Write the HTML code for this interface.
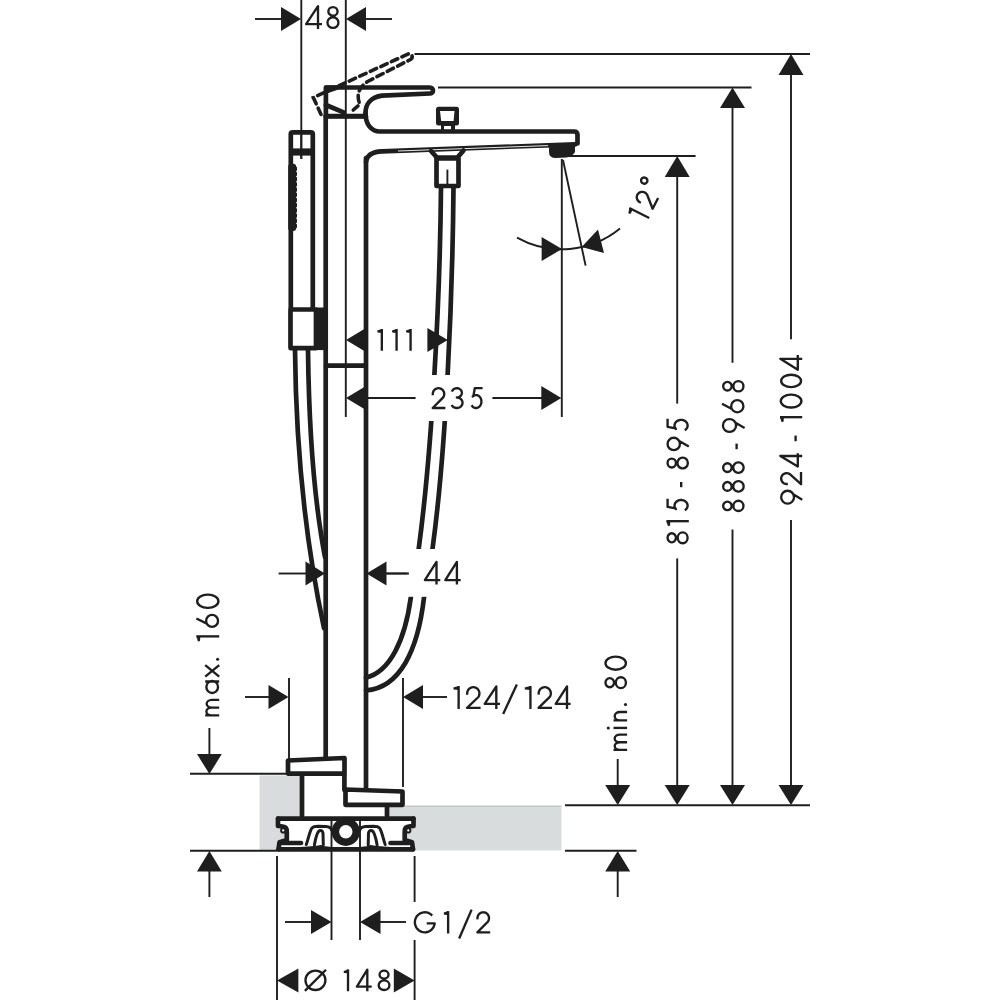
<!DOCTYPE html>
<html>
<head>
<meta charset="utf-8">
<style>
html,body{margin:0;padding:0;background:#fff;width:1000px;height:1000px;overflow:hidden;}
svg{display:block;}
.d{stroke:#1e1e1e;stroke-width:1.9;fill:none;}
.o{stroke:#1e1e1e;stroke-width:4.7;fill:none;stroke-linejoin:round;stroke-linecap:round;}
.ow{stroke:#1e1e1e;stroke-width:4.7;fill:#fff;stroke-linejoin:round;}
.a{fill:#1e1e1e;stroke:none;}
.dash{stroke:#1e1e1e;stroke-width:3.6;fill:none;stroke-dasharray:7 4.6;stroke-linecap:round;}
.t path{stroke:#1e1e1e;stroke-width:2.35;fill:none;stroke-linejoin:round;stroke-linecap:butt;}
.t path.tf{fill:#1e1e1e;stroke:none;}
</style>
</head>
<body>
<svg width="1000" height="1000" viewBox="0 0 1000 1000">

<!-- ===== GRAY FLOOR ===== -->
<polygon points="259.5,775.5 302,775.5 302,806 561.5,806 561.5,850.5 259.5,850.5" fill="#d9dcdd"/>
<line x1="404" y1="806.3" x2="561.5" y2="806.3" stroke="#c4c7c8" stroke-width="1.5"/>

<!-- ===== TOP DIMENSION 48 ===== -->
<line class="d" x1="255" y1="19" x2="282" y2="19"/>
<polygon class="a" points="301,19 281,7 281,31"/>
<line class="d" x1="366" y1="19" x2="392" y2="19"/>
<polygon class="a" points="346,19 366,7 366,31"/>
<line class="d" x1="301.3" y1="0" x2="301.3" y2="159"/>
<line class="d" x1="345.8" y1="0" x2="345.8" y2="417"/>

<!-- ===== RIGHT VERTICAL DIMENSIONS ===== -->
<line class="d" x1="414.5" y1="54" x2="810" y2="54"/>
<line class="d" x1="438" y1="87.5" x2="751.5" y2="87.5"/>
<line class="d" x1="566" y1="156" x2="695.6" y2="156"/>
<line class="d" x1="565" y1="805.3" x2="810" y2="805.3"/>
<line class="d" x1="190" y1="850.8" x2="277" y2="850.8"/>
<line class="d" x1="565" y1="850.8" x2="636.5" y2="850.8"/>

<!-- 924-1004 -->
<line class="d" x1="791" y1="70" x2="791" y2="339.2"/>
<line class="d" x1="791" y1="520" x2="791" y2="790"/>
<polygon class="a" points="791,54 778.5,75 803.5,75"/>
<polygon class="a" points="791,805 778.5,785 803.5,785"/>
<!-- 888-968 -->
<line class="d" x1="732.5" y1="100" x2="732.5" y2="362.8"/>
<line class="d" x1="732.5" y1="529.6" x2="732.5" y2="790"/>
<polygon class="a" points="732.5,87.5 720,108 745,108"/>
<polygon class="a" points="732.5,805 720,785 745,785"/>
<!-- 815-895 -->
<line class="d" x1="677.2" y1="170" x2="677.2" y2="403.6"/>
<line class="d" x1="677.2" y1="558.4" x2="677.2" y2="790"/>
<polygon class="a" points="677.2,156 664.7,177 689.7,177"/>
<polygon class="a" points="677.2,805 664.7,785 689.7,785"/>
<!-- min. 80 -->
<line class="d" x1="617.7" y1="759" x2="617.7" y2="790"/>
<polygon class="a" points="617.7,805 605.2,785 630.2,785"/>
<polygon class="a" points="617.7,851 605.2,871.6 630.2,871.6"/>
<line class="d" x1="617.7" y1="865" x2="617.7" y2="897"/>

<!-- ===== LEFT: max. 160 ===== -->
<line class="d" x1="190" y1="773.8" x2="288" y2="773.8"/>
<line class="d" x1="209.4" y1="728" x2="209.4" y2="760"/>
<polygon class="a" points="209.4,774 197,754 221.8,754"/>
<polygon class="a" points="209.4,851 197,871.6 221.8,871.6"/>
<line class="d" x1="209.4" y1="865" x2="209.4" y2="897"/>

<!-- ===== 111 ===== -->
<polygon class="a" points="346,340 366,328 366,352"/>
<polygon class="a" points="447.8,340 427.4,328 427.4,352"/>

<!-- ===== 235 ===== -->
<polygon class="a" points="346,398 366,386 366,410"/>
<line class="d" x1="366" y1="398" x2="415.6" y2="398"/>
<line class="d" x1="492.4" y1="398" x2="542" y2="398"/>
<polygon class="a" points="561.3,398 541.3,386 541.3,410"/>
<line class="d" x1="561.8" y1="159" x2="561.8" y2="417"/>

<!-- ===== 12 deg ===== -->
<line class="d" x1="563" y1="160" x2="585.6" y2="265.6"/>
<path class="d" d="M517,237.6 A92,92 0 0 0 620,228.6"/>
<polygon class="a" points="562,249 541.6,237 541.6,261"/>
<polygon class="a" points="581.6,247 598,229.5 604,253"/>

<!-- ===== 44 ===== -->
<line class="d" x1="278.6" y1="573.5" x2="307" y2="573.5"/>
<polygon class="a" points="325,573.5 305.5,561.5 305.5,585.5"/>
<polygon class="a" points="366.5,573.5 386.5,561.5 386.5,585.5"/>
<line class="d" x1="386" y1="573.5" x2="409" y2="573.5"/>

<!-- ===== 124/124 ===== -->
<line class="d" x1="245" y1="697" x2="269" y2="697"/>
<polygon class="a" points="288.5,697 268.5,685 268.5,709"/>
<line class="d" x1="289" y1="678" x2="289" y2="760"/>
<line class="d" x1="403" y1="678" x2="403" y2="787"/>
<polygon class="a" points="403,697 423,685 423,709"/>
<line class="d" x1="422" y1="697" x2="447" y2="697"/>

<!-- ===== bottom dims ===== -->
<line class="d" x1="277" y1="856" x2="277" y2="1000"/>
<line class="d" x1="414.6" y1="856" x2="414.6" y2="902"/>
<line class="d" x1="414.6" y1="940" x2="414.6" y2="1000"/>
<line class="d" x1="331.5" y1="818" x2="331.5" y2="940"/>
<line class="d" x1="360" y1="818" x2="360" y2="940"/>
<line class="d" x1="285" y1="922" x2="312" y2="922"/>
<polygon class="a" points="331.5,922 311,910 311,934"/>
<polygon class="a" points="360,922 380.5,910 380.5,934"/>
<line class="d" x1="380" y1="922" x2="406" y2="922"/>
<polygon class="a" points="277,980.4 298.4,968.4 298.4,992.4"/>
<polygon class="a" points="414.6,980.4 393.8,968.4 393.8,992.4"/>

<!-- ===== OBJECT ===== -->
<!-- handshower -->
<path class="o" d="M290.8,308 L290.8,134 Q290.8,132.4 292.8,132.4 L310.8,132.4 Q312.8,132.4 312.8,134 L312.8,308"/>
<rect class="a" x="289" y="148.4" width="25.6" height="7.2"/>
<line class="d" x1="301.3" y1="130" x2="301.3" y2="159"/>
<rect class="a" x="288.2" y="163.8" width="8" height="67.2" rx="3"/>
<line x1="296.2" y1="167.5" x2="296.2" y2="229" stroke="#1e1e1e" stroke-width="1.6" stroke-dasharray="2.6 2.6" stroke-linecap="round"/>
<rect class="ow" x="290.5" y="309.5" width="25.5" height="38.6"/>
<rect class="a" x="316" y="307.5" width="8.5" height="42.6"/>
<!-- handshower hose -->
<path class="o" d="M295,350 C296,450 305,540 324,628"/>
<path class="o" d="M308,350 C309,435 315,505 325,557"/>

<!-- column -->
<line class="o" x1="325.7" y1="116" x2="325.7" y2="758"/>
<line class="o" x1="366" y1="158" x2="366" y2="789"/>
<line class="o" x1="326" y1="365.6" x2="365" y2="365.6"/>

<!-- spout hose -->
<path class="o" d="M441,187 C440,300 432,450 418.8,548 C415,573 413,585 410.8,597.6 C405,640 390,672 366,677.6"/>
<path class="o" d="M453.5,187 C452.5,300 446,450 432.6,548 C429,573 426,585 424,597.6 C418,650 400,688 366,690.4"/>
<rect x="420" y="375" width="70" height="46" fill="#fff"/>
<rect x="407.5" y="549" width="58" height="47.8" fill="#fff"/>
<line class="d" x1="386" y1="573.5" x2="409" y2="573.5"/>

<!-- spout -->
<path class="o" d="M365.5,113 C365.5,124 371,131.5 380,131.5 L574,131.5 Q577.5,131.5 577.5,135 L577.5,143.5"/>
<path class="o" d="M575,144.3 L382,151.3 Q367,152 366,162"/>
<line x1="548" y1="145.6" x2="398" y2="151" stroke="#fff" stroke-width="0.9"/>
<path class="a" d="M549,146 L575,144 L575,152 Q572,157 566,157.6 L556,158 Q549,158 549,152 Z"/>
<!-- knob -->
<rect class="a" x="436" y="106.8" width="23" height="18.6" rx="2.5"/>
<polygon points="440,111 454.5,111 453.6,121 441.2,121" fill="#fff"/>
<rect class="a" x="441" y="124" width="14" height="6.5"/>
<rect x="444" y="126" width="7" height="3.2" fill="#fff"/>
<!-- hose connector -->
<path class="o" d="M431,151 L437,157.6 L457.5,157.6 L463.5,150.5"/>
<rect class="ow" x="436.5" y="158.5" width="22" height="27.5"/>
<line class="d" x1="447.4" y1="169.6" x2="447.4" y2="187"/>

<!-- handle solid -->
<path class="o" d="M325.9,116 L325.9,87.5 L430,87.5 A3,3 0 0 1 430,93.5 L382,95.6 C371,97 365.5,104 365.5,113 L365.5,116 Z" fill="none"/>
<path class="o" d="M325.9,105 L343.6,112.4"/>
<polygon class="a" points="324.5,85.5 346,85.3 336.4,90.2 328.2,93 324.5,93.5"/>
<line class="o" x1="325.9" y1="116.5" x2="366" y2="116.5"/>
<!-- handle raised dashed -->
<g transform="rotate(-24.7 342.6 121.3)">
<path class="dash" d="M325.9,106 L325.9,87.5 L430,87.5 A3,3 0 0 1 430,93.5 L382,95.6 C371,97 365.5,104 365.5,113 L357,115.5"/>
</g>

<!-- base plates -->
<rect x="302" y="775" width="42" height="42" fill="#fff"/>
<rect x="341" y="805" width="46" height="12" fill="#fff"/>
<path class="ow" d="M288,760.5 L344.5,758 L344.5,773.6 L288,773.6 Z"/>
<line class="o" x1="302" y1="775" x2="302" y2="816"/>
<line class="o" x1="344.4" y1="775" x2="344.4" y2="790"/>
<path class="ow" d="M345.5,789.5 L402.5,791.5 L402.5,804.8 L345.5,804.8 Z"/>
<line class="o" x1="387" y1="806" x2="387" y2="816"/>

<!-- mount plate -->
<path d="M278,818.7 L413.5,818.7 L413.5,826.5 L405,827.5 L404.7,840 L412.5,842.5 L413,849.3 L278.5,849.3 L279,842.5 L286.8,840 L286.5,827.5 L278,826.5 Z" fill="#fff" stroke="none"/>
<path class="o" d="M278,818.7 L413.5,818.7"/>
<path class="o" d="M278,818.7 L278,826 C281,826 284.5,826.3 286,828 C287.3,829.5 287,831.5 286.8,833 L286.8,840 L279.5,842.3 L278.5,849.3" stroke-linecap="butt"/>
<path class="o" d="M413.5,818.7 L413.5,826 C410.5,826 407,826.3 405.5,828 C404.2,829.5 404.5,831.5 404.7,833 L404.7,840 L412,842.3 L413,849.3" stroke-linecap="butt"/>
<circle cx="283.2" cy="830.4" r="2.1" fill="#fff" stroke="#1e1e1e" stroke-width="2"/>
<circle cx="408.3" cy="830.4" r="2.1" fill="#fff" stroke="#1e1e1e" stroke-width="2"/>
<path class="o" d="M278.5,849.3 L413,849.3" stroke-width="4"/>
<line class="o" x1="282.5" y1="843" x2="301" y2="843" stroke-width="4"/>
<line class="o" x1="390.5" y1="843" x2="409" y2="843" stroke-width="4"/>
<line class="d" x1="331.5" y1="818" x2="331.5" y2="850"/>
<line class="d" x1="360" y1="818" x2="360" y2="850"/>
<g stroke="#1e1e1e" fill="none" stroke-width="3" stroke-linecap="round">
<path d="M306.3,844.5 C308.5,839 309.5,831 312,828 C313.5,826.5 316,826.3 318,826.3 L326,826.6 C329,826.8 331,828 331.5,830"/>
<path d="M314.4,845 C315.5,839 316.5,833 319,831 C320.5,829.8 322.5,830.5 323,833 L323.3,845"/>
<path d="M300,848.5 C310,848 318,847.5 321,846.5 C323,847.5 327,848 331,848.5"/>
<path d="M385.2,844.5 C383,839 382,831 379.5,828 C378,826.5 375.5,826.3 373.5,826.3 L365.5,826.6 C362.5,826.8 360.5,828 360,830"/>
<path d="M377.1,845 C376,839 375,833 372.5,831 C371,829.8 369,830.5 368.5,833 L368.2,845"/>
<path d="M391.5,848.5 C381.5,848 373.5,847.5 370.5,846.5 C368.5,847.5 364.5,848 360.5,848.5"/>
</g>
<circle cx="345.8" cy="831.8" r="10.4" fill="#fff" stroke="#1e1e1e" stroke-width="7.4"/>

<g class="t">
<g transform="translate(0,28.9)">
<path transform="translate(305.4,0)" d="M12.6,0 L12.6,-22.7 L0.7,-4.8 L16.6,-4.8"/>
<path transform="translate(326.3,0)" d="M2.07,-17.5 A4.58,4.32 0 1 1 11.23,-17.5 A4.58,4.32 0 1 1 2.07,-17.5 Z M1.17,-6.3 A5.48,5.13 0 1 1 12.12,-6.3 A5.48,5.13 0 1 1 1.17,-6.3 Z"/>
</g>
<g transform="translate(0,350.75)">
<path class="tf" transform="translate(377,0)" d="M4.83,-21.75 L0.2,-20.25 L0.5,-18.15 L4.83,-17.85 Z"/>
<path transform="translate(377,0)" d="M4.83,-21.75 L4.83,0 "/>
<path class="tf" transform="translate(391.75,0)" d="M4.83,-21.75 L0.2,-20.25 L0.5,-18.15 L4.83,-17.85 Z"/>
<path transform="translate(391.75,0)" d="M4.83,-21.75 L4.83,0 "/>
<path class="tf" transform="translate(405.75,0)" d="M4.83,-21.75 L0.2,-20.25 L0.5,-18.15 L4.83,-17.85 Z"/>
<path transform="translate(405.75,0)" d="M4.83,-21.75 L4.83,0 "/>
</g>
<g transform="translate(0,409.2)">
<path transform="translate(431.6,0)" d="M1.3,-13.97 L1.19,-14.8 L1.19,-15.64 L1.31,-16.46 L1.55,-17.26 L1.9,-18.02 L2.35,-18.72 L2.89,-19.35 L3.51,-19.89 L4.21,-20.34 L4.96,-20.68 L5.74,-20.9 L6.56,-21.01 L7.38,-21 L8.19,-20.88 L8.97,-20.63 L9.71,-20.27 L10.4,-19.81 L11.01,-19.25 L11.54,-18.61 L11.97,-17.9 L12.3,-17.13 L12.51,-16.33 L12.62,-15.5 L12.6,-14.66 L12.47,-13.84 L12.22,-13.04 L11.87,-12.28 L11.41,-11.59 L1.06,-1.18 L13.8,-1.18"/>
<path transform="translate(450.2,0)" d="M1.71,-17.57 L2.04,-18.38 L2.52,-19.12 L3.15,-19.76 L3.89,-20.29 L4.72,-20.69 L5.62,-20.94 L6.56,-21.02 L7.5,-20.95 L8.4,-20.73 L9.25,-20.35 L10,-19.83 L10.64,-19.2 L11.14,-18.47 L11.49,-17.67 L11.67,-16.82 L11.67,-15.95 L11.5,-15.1 L11.17,-14.3 L10.67,-13.56 L10.04,-12.92 L9.29,-12.4 L8.45,-12.01 L7.55,-11.78 L6.62,-11.7 L6.62,-11.7 L7.55,-11.62 L8.46,-11.41 L9.32,-11.07 L10.11,-10.6 L10.8,-10.01 L11.38,-9.34 L11.83,-8.58 L12.14,-7.76 L12.3,-6.91 L12.31,-6.05 L12.16,-5.19 L11.87,-4.37 L11.43,-3.61 L10.86,-2.92 L10.18,-2.33 L9.4,-1.84 L8.55,-1.49 L7.64,-1.26 L6.71,-1.18 L5.77,-1.23 L4.86,-1.43 L4,-1.76 L3.2,-2.22 L2.5,-2.79 L1.9,-3.46 L1.44,-4.21"/>
<path transform="translate(469.4,0)" d="M13.2,-21.02 L5.41,-21.02 L3.96,-13.1 L3.26,-12.77 L4.1,-13.41 L5.01,-13.86 L5.99,-14.1 L6.98,-14.13 L7.96,-13.94 L8.89,-13.54 L9.75,-12.94 L10.5,-12.16 L11.12,-11.24 L11.59,-10.19 L11.9,-9.06 L12.02,-7.89 L11.97,-6.7 L11.73,-5.55 L11.32,-4.47 L10.76,-3.49 L10.05,-2.66 L9.23,-1.99 L8.32,-1.51 L7.36,-1.24 L6.36,-1.18 L5.38,-1.34 L4.44,-1.71 L3.57,-2.28 L2.8,-3.03 L2.16,-3.94"/>
</g>
<g transform="translate(0,584.6)">
<path transform="translate(424.2,0)" d="M12.3,0 L12.3,-22.7 L0.7,-4.5 L16.1,-4.5"/>
<path transform="translate(444.6,0)" d="M12.3,0 L12.3,-22.7 L0.7,-4.5 L16.1,-4.5"/>
</g>
<g transform="translate(0,709)">
<path class="tf" transform="translate(453.1,0)" d="M5.53,-23 L0.2,-21.5 L0.5,-19.4 L5.53,-19.1 Z"/>
<path transform="translate(453.1,0)" d="M5.53,-23 L5.53,0 "/>
<path transform="translate(466,0)" d="M1.31,-14.28 L1.19,-15.17 L1.19,-16.06 L1.32,-16.94 L1.58,-17.8 L1.95,-18.61 L2.43,-19.36 L3.01,-20.03 L3.68,-20.61 L4.42,-21.09 L5.22,-21.45 L6.06,-21.7 L6.93,-21.81 L7.81,-21.8 L8.68,-21.66 L9.52,-21.4 L10.31,-21.02 L11.04,-20.52 L11.7,-19.93 L12.26,-19.24 L12.72,-18.48 L13.07,-17.66 L13.31,-16.8 L13.42,-15.91 L13.4,-15.02 L13.26,-14.13 L13,-13.28 L12.62,-12.47 L12.13,-11.73 L1.06,-1.18 L14.6,-1.18"/>
<path transform="translate(484,0)" d="M12.3,0 L12.3,-22.7 L0.7,-5.2 L16,-5.2"/>
<path transform="translate(502,0)" d="M1.18,5 L14.82,-24.5"/>
<path class="tf" transform="translate(524.4,0)" d="M6.03,-23 L0.2,-21.5 L0.5,-19.4 L6.03,-19.1 Z"/>
<path transform="translate(524.4,0)" d="M6.03,-23 L6.03,0 "/>
<path transform="translate(537.5,0)" d="M1.31,-14.34 L1.19,-15.22 L1.19,-16.11 L1.32,-16.98 L1.57,-17.83 L1.94,-18.64 L2.42,-19.38 L2.99,-20.05 L3.65,-20.62 L4.39,-21.1 L5.19,-21.46 L6.02,-21.7 L6.89,-21.81 L7.76,-21.8 L8.62,-21.67 L9.45,-21.41 L10.23,-21.03 L10.96,-20.54 L11.61,-19.94 L12.17,-19.26 L12.63,-18.51 L12.98,-17.7 L13.21,-16.84 L13.32,-15.96 L13.3,-15.07 L13.16,-14.2 L12.9,-13.35 L12.52,-12.55 L12.04,-11.81 L1.06,-1.18 L14.5,-1.18"/>
<path transform="translate(555,0)" d="M12,0 L12,-22.7 L0.7,-5.2 L15.6,-5.2"/>
</g>
<g transform="translate(0,933.5)">
<path transform="translate(413.7,0)" d="M18.48,-17.91 L17.51,-18.86 L16.42,-19.67 L15.23,-20.32 L13.96,-20.8 L12.65,-21.1 L11.3,-21.22 L9.95,-21.16 L8.62,-20.91 L7.34,-20.48 L6.13,-19.88 L5.01,-19.11 L4,-18.2 L3.12,-17.16 L2.39,-16.01 L1.83,-14.78 L1.43,-13.47 L1.22,-12.12 L1.18,-10.76 L1.34,-9.4 L1.67,-8.08 L2.18,-6.81 L2.85,-5.63 L3.67,-4.55 L4.64,-3.59 L5.72,-2.78 L6.9,-2.12 L8.16,-1.62 L9.48,-1.31 L10.82,-1.18 L12.17,-1.23 L13.5,-1.47 L14.79,-1.89 L16.01,-2.49 L17.13,-3.24 L18.15,-4.14 L19.03,-5.17 L19.77,-6.32 L20.34,-7.55 L20.75,-8.85 L20.98,-10.2 L12.99,-10.2"/>
<path class="tf" transform="translate(443.5,0)" d="M4.62,-22.4 L0.2,-20.9 L0.5,-18.8 L4.62,-18.5 Z"/>
<path transform="translate(443.5,0)" d="M4.62,-22.4 L4.62,0 "/>
<path transform="translate(458,0)" d="M1.18,5 L13.62,-23.9"/>
<path transform="translate(476.3,0)" d="M1.3,-14.11 L1.19,-14.95 L1.19,-15.79 L1.32,-16.62 L1.55,-17.43 L1.9,-18.2 L2.36,-18.9 L2.9,-19.54 L3.53,-20.08 L4.23,-20.53 L4.99,-20.87 L5.78,-21.1 L6.6,-21.21 L7.43,-21.2 L8.25,-21.07 L9.04,-20.83 L9.79,-20.46 L10.48,-20 L11.09,-19.44 L11.63,-18.79 L12.06,-18.07 L12.39,-17.3 L12.61,-16.49 L12.72,-15.65 L12.7,-14.81 L12.57,-13.97 L12.32,-13.17 L11.96,-12.41 L11.5,-11.71 L1.06,-1.18 L13.9,-1.18"/>
</g>
<g transform="translate(0,991.2)">
<path transform="translate(304.3,0)" d="M1.18,-10.9 A9.97,9.72 0 1 1 21.12,-10.9 A9.97,9.72 0 1 1 1.18,-10.9 Z M0.59,-0.35 L21.71,-21.45"/>
<path class="tf" transform="translate(343.4,0)" d="M4.62,-21.8 L0.2,-20.3 L0.5,-18.2 L4.62,-17.9 Z"/>
<path transform="translate(343.4,0)" d="M4.62,-21.8 L4.62,0 "/>
<path transform="translate(356.2,0)" d="M11.1,0 L11.1,-21.5 L0.7,-4.6 L15.5,-4.6"/>
<path transform="translate(377.5,0)" d="M2.06,-16.59 A4.49,4.04 0 1 1 11.04,-16.59 A4.49,4.04 0 1 1 2.06,-16.59 Z M1.17,-5.97 A5.38,4.8 0 1 1 11.93,-5.97 A5.38,4.8 0 1 1 1.17,-5.97 Z"/>
</g>
<g transform="translate(219.2,716.5) rotate(-90)">
<path transform="translate(0,0)" d="M1.18,0 L1.18,-14 M1.18,-7.52 A3.85,5.3 0 0 1 8.88,-7.52 L8.88,0 M8.88,-7.52 A3.85,5.3 0 0 1 16.57,-7.52 L16.57,0"/>
<path transform="translate(22.3,0)" d="M12.72,0 L12.72,-14 M1.17,-7 A6.01,5.83 0 1 1 13.2,-7 A6.01,5.83 0 1 1 1.17,-7 Z"/>
<path transform="translate(39.2,0)" d="M0.7,-14 L12.2,0 M12.2,-14 L0.7,0"/>
<path class="tf" transform="translate(74.9,0)" d="M5.23,-22.8 L0.2,-21.3 L0.5,-19.2 L5.23,-18.9 Z"/>
<path transform="translate(74.9,0)" d="M5.23,-22.8 L5.23,0 "/>
<path transform="translate(88.5,0)" d="M1.17,-7.12 A5.95,5.95 0 1 1 13.07,-7.12 A5.95,5.95 0 1 1 1.17,-7.12 Z M4.33,-12.38 L9.55,-22.8"/>
<path transform="translate(107.5,0)" d="M1.17,-11.4 A6.58,10.22 0 1 1 14.32,-11.4 A6.58,10.22 0 1 1 1.17,-11.4 Z"/>
<circle cx="57.2" cy="-1.6" r="1.55" fill="#1e1e1e" stroke="none"/>
</g>
<g transform="translate(627.1,751) rotate(-90)">
<path transform="translate(0,0)" d="M1.18,0 L1.18,-13.6 M1.18,-7.12 A3.81,5.3 0 0 1 8.8,-7.12 L8.8,0 M8.8,-7.12 A3.81,5.3 0 0 1 16.43,-7.12 L16.43,0"/>
<path transform="translate(21.9,0)" d="M1.18,0 L1.18,-13.6"/>
<path transform="translate(29.4,0)" d="M1.18,0 L1.18,-13.6 M1.18,-7.12 A4.22,5.3 0 0 1 9.62,-7.12 L9.62,0"/>
<path transform="translate(61.7,0)" d="M2.07,-17.35 A4.53,4.27 0 1 1 11.13,-17.35 A4.53,4.27 0 1 1 2.07,-17.35 Z M1.17,-6.25 A5.42,5.07 0 1 1 12.02,-6.25 A5.42,5.07 0 1 1 1.17,-6.25 Z"/>
<path transform="translate(80.1,0)" d="M1.17,-11.4 A6.53,10.22 0 1 1 14.23,-11.4 A6.53,10.22 0 1 1 1.17,-11.4 Z"/>
<circle cx="23.07" cy="-18.8" r="1.55" fill="#1e1e1e" stroke="none"/>
<circle cx="46.5" cy="-1.6" r="1.55" fill="#1e1e1e" stroke="none"/>
</g>
<g transform="translate(688.8,544.4) rotate(-90)">
<path transform="translate(0,0)" d="M2.07,-17.05 A4.53,4.18 0 1 1 11.13,-17.05 A4.53,4.18 0 1 1 2.07,-17.05 Z M1.17,-6.14 A5.42,4.96 0 1 1 12.02,-6.14 A5.42,4.96 0 1 1 1.17,-6.14 Z"/>
<path class="tf" transform="translate(18.1,0)" d="M5.12,-22.4 L0.2,-20.9 L0.5,-18.8 L5.12,-18.5 Z"/>
<path transform="translate(18.1,0)" d="M5.12,-22.4 L5.12,0 "/>
<path transform="translate(31.9,0)" d="M13.7,-21.22 L5.62,-21.22 L4.11,-13.22 L3.36,-12.89 L4.23,-13.54 L5.19,-13.99 L6.21,-14.24 L7.25,-14.27 L8.27,-14.07 L9.25,-13.67 L10.15,-13.06 L10.93,-12.28 L11.58,-11.34 L12.07,-10.29 L12.39,-9.15 L12.52,-7.96 L12.46,-6.76 L12.22,-5.59 L11.79,-4.5 L11.2,-3.52 L10.46,-2.67 L9.6,-2 L8.65,-1.51 L7.64,-1.24 L6.6,-1.18 L5.57,-1.34 L4.59,-1.72 L3.68,-2.3 L2.87,-3.05 L2.2,-3.97"/>
<path transform="translate(57.2,0)" d="M0,-7.6 L5.2,-7.6"/>
<path transform="translate(74.9,0)" d="M2.05,-17.05 A4.45,4.18 0 1 1 10.95,-17.05 A4.45,4.18 0 1 1 2.05,-17.05 Z M1.17,-6.14 A5.33,4.96 0 1 1 11.82,-6.14 A5.33,4.96 0 1 1 1.17,-6.14 Z"/>
<path transform="translate(93.1,0)" d="M1.17,-15.05 A6.17,6.17 0 1 1 13.52,-15.05 A6.17,6.17 0 1 1 1.17,-15.05 Z M10.25,-9.6 L4.85,0"/>
<path transform="translate(112,0)" d="M13.7,-21.22 L5.62,-21.22 L4.11,-13.22 L3.36,-12.89 L4.23,-13.54 L5.19,-13.99 L6.21,-14.24 L7.25,-14.27 L8.27,-14.07 L9.25,-13.67 L10.15,-13.06 L10.93,-12.28 L11.58,-11.34 L12.07,-10.29 L12.39,-9.15 L12.52,-7.96 L12.46,-6.76 L12.22,-5.59 L11.79,-4.5 L11.2,-3.52 L10.46,-2.67 L9.6,-2 L8.65,-1.51 L7.64,-1.24 L6.6,-1.18 L5.57,-1.34 L4.59,-1.72 L3.68,-2.3 L2.87,-3.05 L2.2,-3.97"/>
</g>
<g transform="translate(744.6,512.2) rotate(-90)">
<path transform="translate(0,0)" d="M2.03,-17.2 A4.27,4.23 0 1 1 10.57,-17.2 A4.27,4.23 0 1 1 2.03,-17.2 Z M1.17,-6.19 A5.12,5.02 0 1 1 11.43,-6.19 A5.12,5.02 0 1 1 1.17,-6.19 Z"/>
<path transform="translate(19.4,0)" d="M2.04,-17.2 A4.36,4.23 0 1 1 10.76,-17.2 A4.36,4.23 0 1 1 2.04,-17.2 Z M1.17,-6.19 A5.23,5.02 0 1 1 11.62,-6.19 A5.23,5.02 0 1 1 1.17,-6.19 Z"/>
<path transform="translate(38.2,0)" d="M2.04,-17.2 A4.36,4.23 0 1 1 10.76,-17.2 A4.36,4.23 0 1 1 2.04,-17.2 Z M1.17,-6.19 A5.23,5.02 0 1 1 11.62,-6.19 A5.23,5.02 0 1 1 1.17,-6.19 Z"/>
<path transform="translate(63,0)" d="M0,-8 L5.6,-8"/>
<path transform="translate(79.2,0)" d="M1.17,-15.1 A6.33,6.33 0 1 1 13.82,-15.1 A6.33,6.33 0 1 1 1.17,-15.1 Z M10.47,-9.52 L4.95,0"/>
<path transform="translate(98.7,0)" d="M1.17,-7.3 A6.12,6.12 0 1 1 13.43,-7.3 A6.12,6.12 0 1 1 1.17,-7.3 Z M4.42,-12.71 L9.78,-22.6"/>
<path transform="translate(119.7,0)" d="M2.03,-17.2 A4.27,4.23 0 1 1 10.57,-17.2 A4.27,4.23 0 1 1 2.03,-17.2 Z M1.17,-6.19 A5.12,5.02 0 1 1 11.43,-6.19 A5.12,5.02 0 1 1 1.17,-6.19 Z"/>
</g>
<g transform="translate(802.2,505.6) rotate(-90)">
<path transform="translate(0.8,0)" d="M1.17,-14.6 A6.42,6.42 0 1 1 14.02,-14.6 A6.42,6.42 0 1 1 1.17,-14.6 Z M10.62,-8.93 L5.02,0"/>
<path transform="translate(20.4,0)" d="M1.29,-14.34 L1.19,-15.13 L1.19,-15.92 L1.31,-16.7 L1.53,-17.46 L1.86,-18.18 L2.28,-18.84 L2.8,-19.44 L3.39,-19.95 L4.05,-20.37 L4.76,-20.7 L5.51,-20.91 L6.28,-21.02 L7.05,-21.01 L7.82,-20.88 L8.56,-20.65 L9.27,-20.31 L9.91,-19.87 L10.49,-19.35 L10.99,-18.74 L11.4,-18.06 L11.71,-17.34 L11.92,-16.57 L12.02,-15.79 L12,-15 L11.88,-14.21 L11.65,-13.46 L11.31,-12.74 L10.87,-12.08 L1.06,-1.18 L13.2,-1.18"/>
<path transform="translate(38.4,0)" d="M11.2,0 L11.2,-21.9 L0.7,-4.4 L14,-4.4"/>
<path transform="translate(64.4,0)" d="M0,-6.6 L5.6,-6.6"/>
<path class="tf" transform="translate(83.3,0)" d="M5.12,-22.2 L0.2,-20.7 L0.5,-18.6 L5.12,-18.3 Z"/>
<path transform="translate(83.3,0)" d="M5.12,-22.2 L5.12,0 "/>
<path transform="translate(96.9,0)" d="M1.17,-11.1 A6.48,9.92 0 1 1 14.12,-11.1 A6.48,9.92 0 1 1 1.17,-11.1 Z"/>
<path transform="translate(117.3,0)" d="M1.17,-11.1 A6.17,9.92 0 1 1 13.52,-11.1 A6.17,9.92 0 1 1 1.17,-11.1 Z"/>
<path transform="translate(135.2,0)" d="M11.6,0 L11.6,-21.9 L0.7,-4.4 L15.3,-4.4"/>
</g>
<g transform="translate(649.2,218.1) rotate(-63.06)">
<path class="tf" transform="translate(-5.3,0)" d="M5.33,-22.3 L0.2,-20.8 L0.5,-18.7 L5.33,-18.4 Z"/>
<path transform="translate(-5.3,0)" d="M5.33,-22.3 L5.33,0 "/>
<path transform="translate(8.8,0)" d="M1.29,-14.44 L1.19,-15.23 L1.19,-16.02 L1.31,-16.8 L1.53,-17.56 L1.86,-18.28 L2.28,-18.94 L2.8,-19.54 L3.39,-20.05 L4.05,-20.47 L4.76,-20.8 L5.51,-21.01 L6.28,-21.12 L7.05,-21.11 L7.82,-20.98 L8.56,-20.75 L9.27,-20.41 L9.91,-19.97 L10.49,-19.45 L10.99,-18.84 L11.4,-18.16 L11.71,-17.44 L11.92,-16.67 L12.02,-15.89 L12,-15.1 L11.88,-14.31 L11.65,-13.56 L11.31,-12.84 L10.87,-12.18 L1.06,-1.18 L13.2,-1.18"/>
<path d="M28.17,-21.4 a3.03,3.03 0 1 1 6.05,0 a3.03,3.03 0 1 1 -6.05,0 Z"/>
</g>
</g>
</svg>
</body>
</html>
